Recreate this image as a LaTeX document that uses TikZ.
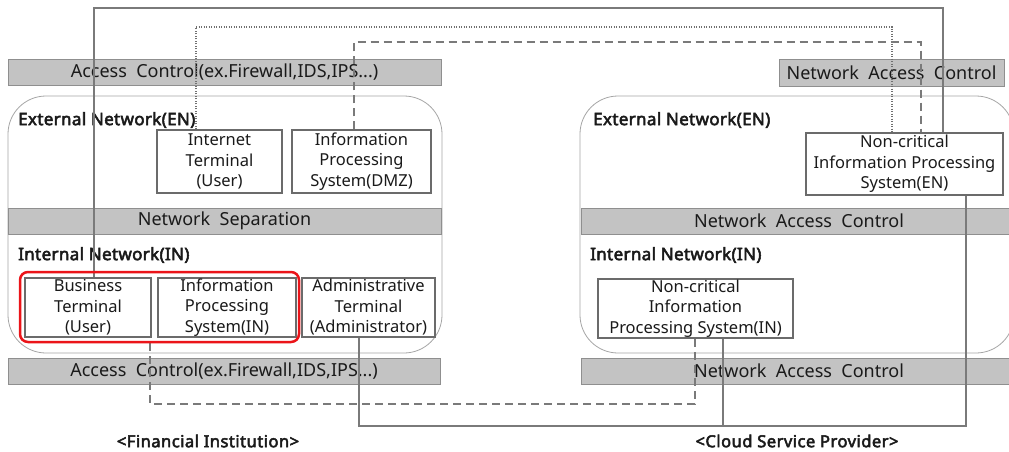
\documentclass[tikz,border=0pt]{standalone}
\usepackage{fontspec}
\setmainfont{Noto Sans}
\newfontfamily\lblfont{Noto Sans}[FakeBold=3, LetterSpace=2]
\newfontfamily\capfont{Noto Sans}[FakeBold=3, LetterSpace=3]
\usetikzlibrary{calc}
\definecolor{barfill}{HTML}{C3C3C3}
\definecolor{barline}{HTML}{8F8F8F}
\definecolor{regionline}{HTML}{A6A6A6}
\definecolor{boxline}{HTML}{6B6B6B}
\definecolor{connline}{HTML}{7A7A7A}
\definecolor{dotline}{HTML}{707070}
\definecolor{txt}{HTML}{1A1A1A}
\definecolor{grpred}{RGB}{235,20,25}
\begin{document}
\begin{tikzpicture}[x=1pt,y=-1pt,
  every node/.style={text=txt},
  bar/.style={draw=barline, fill=barfill, line width=0.8pt, inner sep=0pt, font=\fontsize{18}{22}\selectfont},
  region/.style={draw=regionline, line width=0.8pt, rounded corners=38pt, inner sep=0pt},
  box/.style={draw=boxline, line width=1.3pt, fill=white, align=center, inner sep=0pt, font=\fontsize{16.5}{20.5}\selectfont},
  lbl/.style={anchor=west, inner sep=0pt, font=\lblfont\fontsize{17}{21}\selectfont},
  captext/.style={inner sep=0pt, font=\capfont\fontsize{16.5}{20}\selectfont},
  conn/.style={draw=connline, line width=1.3pt},
  dashconn/.style={conn, dash pattern=on 8pt off 5pt},
  dotconn/.style={draw=dotline, line width=1.2pt, dash pattern=on 1.2pt off 1.3pt},
  grpshape/.style={line width=2.5pt, rounded corners=8pt, inner sep=0pt, minimum width=279, minimum height=70},
  grp/.style={grpshape, draw=grpred}
]
\clip (0,0) rectangle (1009,452);
\fill[white] (0,0) rectangle (1009,452);

% regions
\node[region, minimum width=434, minimum height=257] (fireg) at (225,224.5) {};
\node[region, minimum width=434, minimum height=257] (csreg) at (797,224.5) {};

% bars
\node[bar, minimum width=433, minimum height=26] (actop) at (224.5,72.5) {Access\ \ Control(ex.Firewall,IDS,IPS...)};
\node[bar, minimum width=433, minimum height=26] (nsep) at (224.5,221) {Network\ \ Separation};
\node[bar, minimum width=432, minimum height=26] (acbot) at (224,371) {Access\ \ Control(ex.Firewall,IDS,IPS...)};
\node[bar, minimum width=225, minimum height=27] (nactop) at (891.5,72.5) {Network\ \ Access\ \ Control};
\node[bar, minimum width=436, minimum height=26] (nacmid) at (799,221) {Network\ \ Access\ \ Control};
\node[bar, minimum width=436, minimum height=26] (nacbot) at (799,371) {Network\ \ Access\ \ Control};

% labels
\node[lbl] (enl) at (18,120) {External Network(EN)};
\node[lbl] (inl) at (18,255) {Internal Network(IN)};
\node[lbl] (enr) at (593,120) {External Network(EN)};
\node[lbl] (inr) at (590,255) {Internal Network(IN)};
\node[captext] (fi) at (208,441) {<Financial Institution>};
\node[captext] (csp) at (797,441) {<Cloud Service Provider>};

% connector corner points
\coordinate (s1a) at (94,8);
\coordinate (s1b) at (943,8);
\coordinate (d1a) at (196,27);
\coordinate (d1b) at (892,27);
\coordinate (h1a) at (354,42);
\coordinate (h1b) at (921,42);
\coordinate (h2a) at (150,404);
\coordinate (h2b) at (695,404);
\coordinate (s2a) at (359,426);
\coordinate (s2b) at (966,426);
\coordinate (s3) at (723,426);

% boxes
\node[box, minimum width=125, minimum height=63] (it) at (219.5,161.5) {Internet\\Terminal\\(User)};
\node[box, minimum width=139, minimum height=63] (dmz) at (361.5,161.5) {Information\\Processing\\System(DMZ)};
\node[box, minimum width=126, minimum height=59] (bt) at (88,307.5) {Business\\Terminal\\(User)};
\node[box, minimum width=138, minimum height=59] (ipsin) at (227,307.5) {Information\\Processing\\System(IN)};
\node[box, minimum width=133, minimum height=59] (admin) at (368.5,307.5) {Administrative\\Terminal\\(Administrator)};
\node[box, minimum width=197, minimum height=62] (ncen) at (904.5,164) {Non-critical\\Information Processing\\System(EN)};
\node[box, minimum width=195, minimum height=59] (ncin) at (695.5,308.5) {Non-critical\\Information\\Processing System(IN)};

% red group outline (position)
\path node[grpshape] (grp) at (159.5,307) {};

% connectors
\draw[conn] (bt.north -| s1a) -- (s1a) -- (s1b) -- (s1b |- ncen.north);
\draw[dotconn] (it.north -| d1a) -- (d1a) -- (d1b) -- (d1b |- ncen.north);
\draw[dashconn] (dmz.north -| h1a) -- (h1a) -- (h1b) -- (h1b |- ncen.north);
\draw[dashconn] (grp.south -| h2a) -- (h2a) -- (h2b) -- (h2b |- ncin.south);
\draw[conn] (admin.south -| s2a) -- (s2a) -- (s2b) -- (s2b |- ncen.south);
\draw[conn] (ncin.south -| s3) -- (s3);

% red group drawn on top
\node[grp] (grpline) at (grp.center) {};
\end{tikzpicture}
\end{document}
